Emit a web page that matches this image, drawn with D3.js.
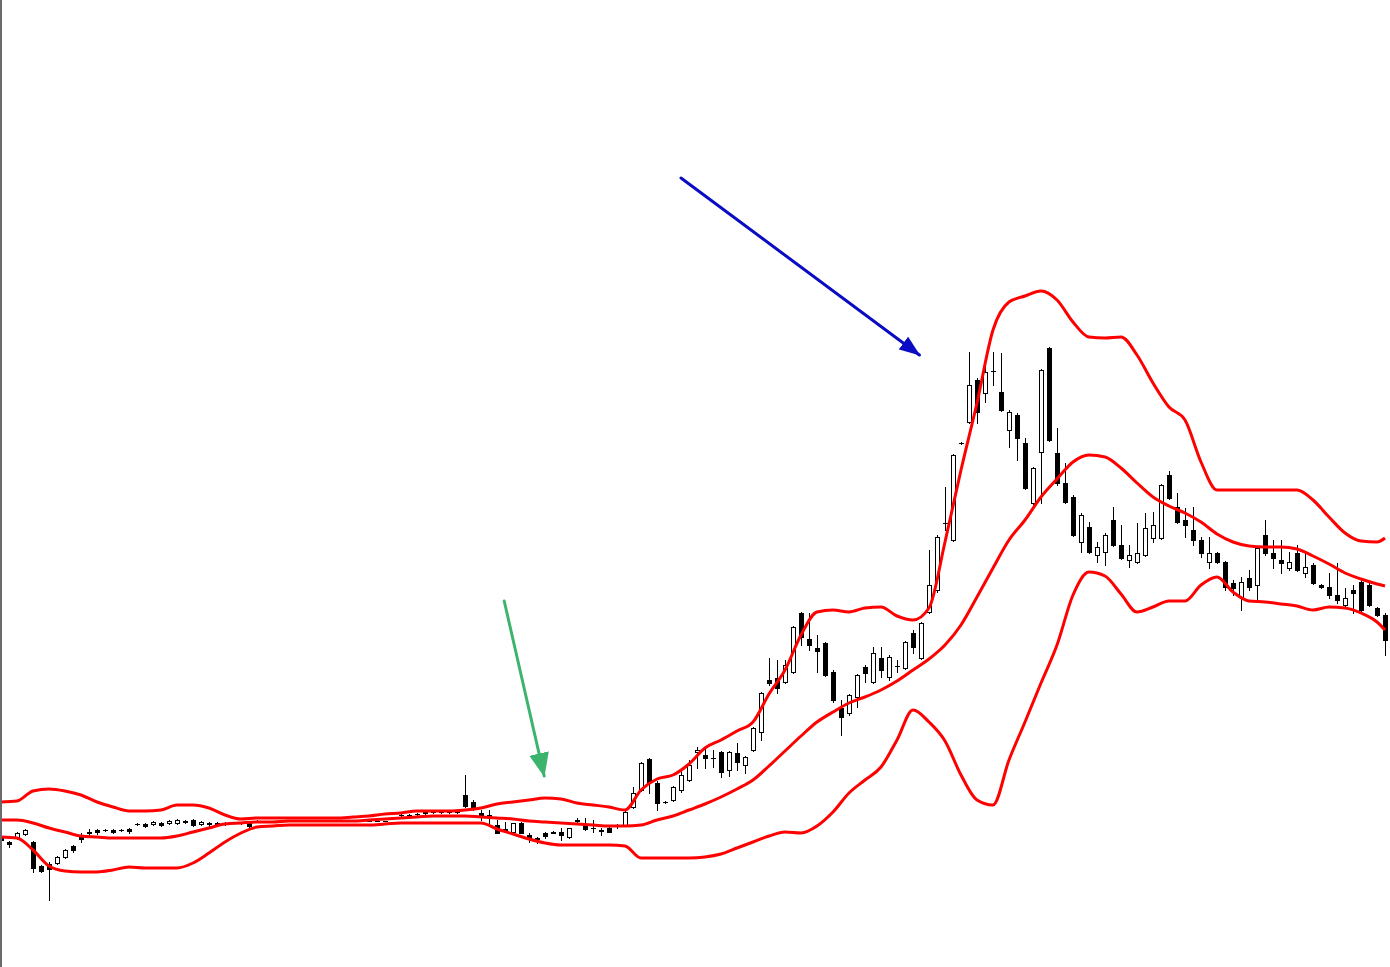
<!DOCTYPE html>
<html>
<head>
<meta charset="utf-8">
<script src="https://cdn.jsdelivr.net/npm/d3@7"></script>
<style>
  body { margin: 0; background: #fff; }
  svg { display: block; }
</style>
</head>
<body>
<div id="chart"></div>
<script>
// ---- data (price units, one bar per session) ----
var open = [164,158,162,166,158,134,136,137,143,154,
  165,168,170,170,170,170,171,176,176,176,
  177,177,177,178,180,176,177,177,177,177,
  177,178,179,
  179,179,179,179,179,179,179,179,179,179,179,179,179,179,179,179,
  187,185,185,186,188,188,188,188,188,
  205,198,187,185,175,171,168,177,165,162,
  167,168,168,163,180,175,172,170,172,174,
  175,193,210,241,217,198,200,210,220,248,
  245,242,248,230,247,235,250,268,320,322,
  318,328,387,361,352,357,328,292,287,303,
  333,318,342,323,334,332,367,342,388,410,
  477,460,557,578,620,607,629,608,570,585,
  557,497,548,652,547,517,503,458,473,445,
  448,480,455,440,438,445,462,462,525,493,
  480,470,460,438,447,438,417,403,422,415,
  465,447,440,432,447,427,435,415,413,405,
  395,410,418,415,392,385];

var high = [166,159,168,171,159,135,138,144,151,155,
  167,171,171,171,171,171,172,177,177,179,
  178,180,181,180,181,179,178,178,178,177,
  178,179,180,
  179,179,179,179,179,179,179,179,179,179,179,179,179,179,179,179,
  188,186,186,187,189,188,188,188,189,
  225,200,190,190,180,178,177,178,167,163,
  168,169,172,172,182,182,180,172,173,176,
  190,213,238,242,219,199,214,230,240,253,
  253,250,249,249,257,244,273,308,342,340,
  340,374,388,387,365,358,330,300,306,326,
  335,353,353,345,340,359,370,378,450,465,
  513,546,558,648,622,634,648,647,590,587,
  562,533,631,653,572,537,505,487,478,458,
  467,493,475,455,477,487,488,516,529,507,
  492,493,463,463,448,439,420,423,430,453,
  480,460,460,448,455,447,437,416,427,437,
  412,415,420,417,393,387];

var low = [154,153,161,165,128,128,100,136,142,148,
  158,163,166,169,167,169,167,175,173,175,
  174,176,176,177,174,175,174,174,175,177,
  176,173,178,
  179,179,179,179,179,179,179,179,179,179,179,179,179,179,179,179,
  186,184,184,185,186,187,187,187,187,
  193,190,180,177,167,168,167,167,158,157,
  162,167,160,162,177,170,168,165,168,172,
  174,192,209,207,190,197,199,208,219,232,
  232,233,223,224,230,227,249,260,315,307,
  317,327,355,350,328,324,298,265,285,293,
  318,317,323,320,328,331,347,341,387,408,
  470,459,556,577,577,598,615,589,553,540,
  511,496,497,559,515,497,464,448,447,438,
  435,454,441,433,437,444,458,461,501,477,
  463,455,443,432,437,410,405,390,410,400,
  445,432,427,430,429,423,416,412,402,397,
  394,387,389,394,384,345];

var close = [160,156,167,170,132,129,131,143,150,150,
  161,167,168,170,168,170,169,176,174,178,
  175,179,180,179,175,178,176,176,176,177,
  177,174,179,
  179,179,179,179,179,179,179,179,179,179,179,179,179,179,179,179,
  187,185,185,186,187,188,188,188,188,
  194,193,184,184,167,170,177,167,162,161,
  164,167,165,172,179,171,172,169,168,174,
  188,207,237,218,197,198,213,225,235,250,
  242,242,228,248,238,243,272,307,317,312,
  335,373,363,355,349,325,300,283,305,325,
  327,347,330,343,334,358,353,377,415,463,
  477,545,557,615,588,628,629,590,588,562,
  512,532,630,560,517,498,465,485,448,453,
  465,455,442,445,447,472,475,515,502,478,
  475,460,447,447,438,413,412,418,413,452,
  447,442,437,438,430,433,417,413,405,400,
  402,407,390,395,385,360];

// Bollinger bands, read every second bar (plus the last one)
var bandIdx = d3.range(0, 173, 2).concat([173]);
var upperBand = [198,199,209,211,209,205,198,193,189,189,
  190,195,195,192,185,181,182,182,182,182,
  182,182,183,184,186,187,189,189,189,190,
  192,196,198,200,202,201,197,195,193,190,
  210,221,225,236,252,260,269,278,306,330,
  365,388,390,388,392,393,384,380,392,458,
  530,597,670,698,704,709,700,678,663,662,
  663,645,617,593,580,538,510,510,510,510,
  510,510,500,483,467,459,458,462];
var middleBand = [180,180,177,172,168,164,163,162,162,162,
  162,164,168,172,176,177,178,178,179,179,
  179,179,179,180,181,182,183,184,184,184,
  183,182,181,179,178,177,176,175,174,174,
  175,180,184,190,196,203,211,220,234,249,
  264,278,288,297,303,310,319,330,341,355,
  375,403,432,460,480,503,521,538,545,543,
  532,517,503,494,487,478,466,458,454,453,
  453,451,444,436,427,421,416,414];
var lowerBand = [163,162,150,134,129,128,128,130,133,132,
  132,132,137,147,158,167,173,174,175,175,
  175,175,175,175,176,177,177,177,177,177,
  177,171,166,161,157,155,155,155,155,154,
  142,142,142,142,143,146,152,158,164,168,
  167,174,188,207,220,233,260,290,278,259,
  225,200,195,240,278,317,355,405,428,424,
  406,388,393,399,399,415,423,408,399,398,
  396,394,390,393,392,387,378,370];

// annotation arrows: bar index / price at start and tip
var arrowStartIdx = [85, 62.9];
var arrowStartPrice = [822, 399];
var arrowEndIdx = [114.8, 67.9];
var arrowEndPrice = [645, 224];

// ---- chart ----
var width = 1390, height = 967;

var x = d3.scaleLinear().domain([0, 173]).range([1, 1385]);
var y = d3.scaleLinear().domain([0, 1000]).range([1000, 0]);

var svg = d3.select("#chart").append("svg")
    .attr("width", width)
    .attr("height", height);

var bars = d3.range(open.length).map(function(i) {
  return {i: i, o: open[i], h: high[i], l: low[i], c: close[i]};
});

var candles = svg.append("g").attr("shape-rendering", "crispEdges");

function cx(d) { return Math.round(x(d.i)); }

// wicks
candles.selectAll(".wick")
  .data(bars)
  .enter().append("line")
  .attr("class", "wick")
  .attr("x1", function(d){ return cx(d) + 0.5; })
  .attr("x2", function(d){ return cx(d) + 0.5; })
  .attr("y1", function(d){ return Math.round(y(d.h)); })
  .attr("y2", function(d){ return Math.round(y(d.l)) + 1; })
  .attr("stroke", "#000")
  .attr("stroke-width", 1);

// bodies
candles.selectAll(".body")
  .data(bars.filter(function(d){ return d.o != d.c; }))
  .enter().append("rect")
  .attr("class", "body")
  .attr("x", function(d){ return cx(d) - 1.5; })
  .attr("y", function(d){ return Math.round(y(Math.max(d.o, d.c))) + 0.5; })
  .attr("width", 4)
  .attr("height", function(d){ return Math.max(1, Math.round(Math.abs(y(d.o) - y(d.c)))); })
  .attr("fill", function(d){ return d.c > d.o ? "#fff" : "#000"; })
  .attr("stroke", "#000")
  .attr("stroke-width", 1);

// doji ticks
candles.selectAll(".doji")
  .data(bars.filter(function(d){ return d.o == d.c; }))
  .enter().append("line")
  .attr("class", "doji")
  .attr("x1", function(d){ return cx(d) - 2; })
  .attr("x2", function(d){ return cx(d) + 3; })
  .attr("y1", function(d){ return Math.round(y(d.o)) + 0.5; })
  .attr("y2", function(d){ return Math.round(y(d.o)) + 0.5; })
  .attr("stroke", "#000");

// bands
var band = d3.line()
  .x(function(d){ return x(d[0]); })
  .y(function(d){ return y(d[1]); })
  .curve(d3.curveMonotoneX);

[upperBand, middleBand, lowerBand].forEach(function(vals) {
  svg.append("path")
    .datum(bandIdx.map(function(idx, k){ return [idx, vals[k]]; }))
    .attr("d", band)
    .attr("fill", "none")
    .attr("stroke", "#ff0000")
    .attr("stroke-width", 3)
    .attr("stroke-linejoin", "round");
});

// arrows
var arrowColors = ["#0b0bc4", "#3cb46e"];
var heads = [{len: 21, half: 8}, {len: 24, half: 10}];
var defs = svg.append("defs");
arrowColors.forEach(function(col, k) {
  defs.append("marker")
    .attr("id", "head" + k)
    .attr("markerUnits", "userSpaceOnUse")
    .attr("viewBox", "0 " + (-heads[k].half) + " " + heads[k].len + " " + (2 * heads[k].half))
    .attr("refX", heads[k].len - 1)
    .attr("refY", 0)
    .attr("markerWidth", heads[k].len)
    .attr("markerHeight", 2 * heads[k].half)
    .attr("orient", "auto")
    .append("path")
    .attr("d", "M0," + (-heads[k].half) + "L" + heads[k].len + ",0L0," + heads[k].half + "Z")
    .attr("fill", col);
});

svg.selectAll(".arrow")
  .data(arrowStartIdx)
  .enter().append("line")
  .attr("class", "arrow")
  .attr("x1", function(d, k){ return x(arrowStartIdx[k]); })
  .attr("y1", function(d, k){ return y(arrowStartPrice[k]); })
  .attr("x2", function(d, k){ return x(arrowEndIdx[k]); })
  .attr("y2", function(d, k){ return y(arrowEndPrice[k]); })
  .attr("stroke", function(d, k){ return arrowColors[k]; })
  .attr("stroke-width", 3)
  .attr("stroke-linecap", "round")
  .attr("marker-end", function(d, k){ return "url(#head" + k + ")"; });

// window frame on the left
svg.append("rect")
  .attr("x", 0).attr("y", 0)
  .attr("width", 2).attr("height", height)
  .attr("fill", "#6a6a6a");
</script>
</body>
</html>
